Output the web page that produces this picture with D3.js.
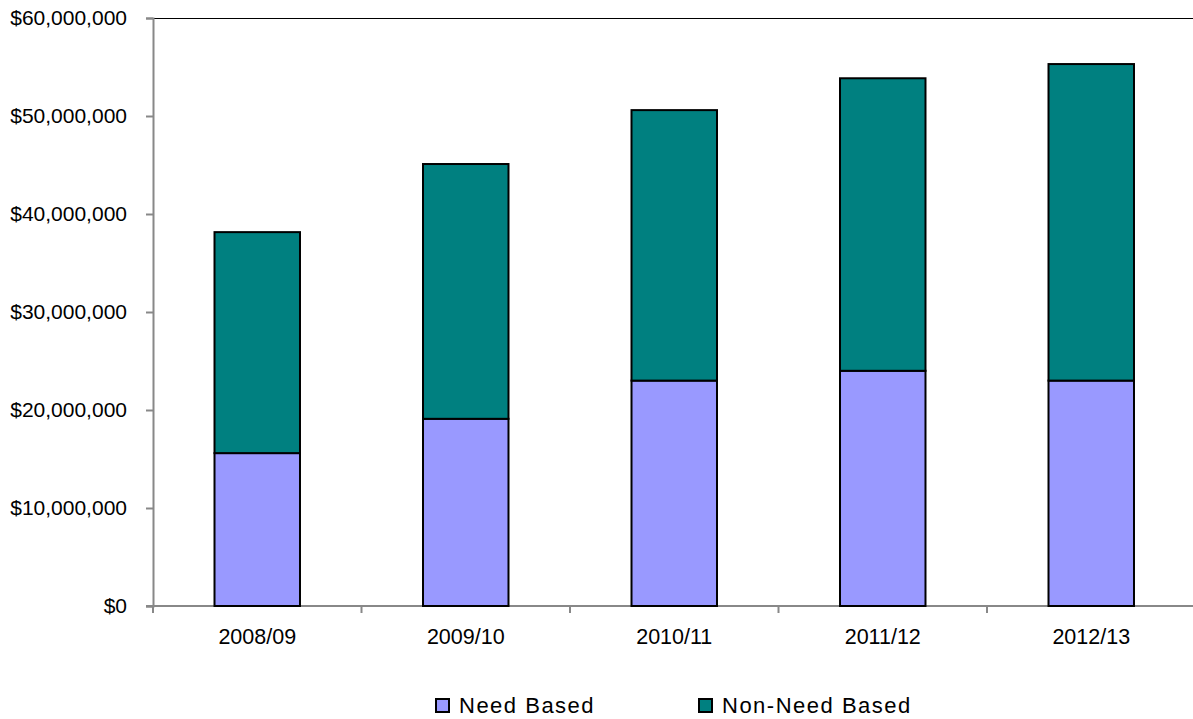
<!DOCTYPE html>
<html><head><meta charset="utf-8">
<script src="https://cdn.jsdelivr.net/npm/d3@7"></script>
<style>
body{margin:0;background:#fff;}
text{font-family:"Liberation Sans",Arial,sans-serif;fill:#000;}
</style></head>
<body>
<svg id="c" width="1193" height="719"></svg>
<script>
const categories = ["2008/09","2009/10","2010/11","2011/12","2012/13"];
const needBased = [15.6e6, 19.1e6, 23.0e6, 24.0e6, 23.0e6];
const nonNeedTotal = [38.15e6, 45.1e6, 50.6e6, 53.85e6, 55.3e6];
const nonNeedBased = nonNeedTotal.map((t,i)=>t-needBased[i]);
const seriesNames = ["Need Based","Non-Need Based"];
const seriesColors = ["#9999FF","#008080"];
const yTicks = [0,10e6,20e6,30e6,40e6,50e6,60e6];

(function(){
const svg = d3.select("#c");
const pL = 153, pR = 1195.5, pT = 18, pB = 606;

const x = d3.scaleBand().domain(categories).range([pL,pR]).paddingInner(0.59).paddingOuter(0.295);
const y = d3.scaleLinear().domain([0,60e6]).range([pB,pT]);

const rows = categories.map((c,i)=>({cat:c, "Need Based":needBased[i], "Non-Need Based":nonNeedBased[i]}));
const stacked = d3.stack().keys(seriesNames)(rows);

// top border
svg.append("line").attr("x1",pL).attr("x2",1193).attr("y1",pT+0.5).attr("y2",pT+0.5).attr("stroke","#000").attr("stroke-width",1);

// y axis
const fmt = v => "$" + d3.format(",")(v);
const yAx = svg.append("g").attr("transform",`translate(${pL},0)`)
  .call(d3.axisLeft(y).tickValues(yTicks).tickFormat(fmt).tickSize(7).tickPadding(19));
yAx.select(".domain").attr("stroke","#888").attr("stroke-width",2);
yAx.selectAll(".tick line").attr("stroke","#888").attr("stroke-width",2);
yAx.selectAll("text").style("font-size","21px").attr("fill","#000");

// x axis
const xAx = svg.append("g").attr("transform",`translate(0,${pB})`)
  .call(d3.axisBottom(x).tickSize(0).tickPadding(23));
xAx.select(".domain").remove();
xAx.selectAll("text").style("font-size","21.5px").attr("fill","#000");
svg.append("line").attr("x1",pL-7).attr("x2",1193).attr("y1",pB).attr("y2",pB).attr("stroke","#888").attr("stroke-width",2);
const step = x.step();
const bounds = d3.range(categories.length+1).map(i=>pL + i*step);
svg.selectAll(".xt").data(bounds).enter().append("line")
  .attr("x1",d=>d).attr("x2",d=>d).attr("y1",pB).attr("y2",pB+7)
  .attr("stroke","#888").attr("stroke-width",2);

// bars
stacked.forEach((s,si)=>{
  svg.append("g").selectAll("rect").data(s).enter().append("rect")
    .attr("x",d=>x(d.data.cat))
    .attr("width",x.bandwidth())
    .attr("y",d=>y(d[1]))
    .attr("height",d=>y(d[0])-y(d[1]))
    .attr("fill",seriesColors[si])
    .attr("stroke","#000").attr("stroke-width",2);
});

// legend
const legX = [435, 698];
seriesNames.forEach((n,i)=>{
  const g = svg.append("g").attr("transform",`translate(${legX[i]},698)`);
  g.append("rect").attr("x",1).attr("y",1).attr("width",13).attr("height",13)
    .attr("fill",seriesColors[i]).attr("stroke","#000").attr("stroke-width",2);
  g.append("text").attr("x",24).attr("y",15)
    .style("font-size","22px").style("letter-spacing","1.5px").text(n);
});
})();
</script>
</body></html>
